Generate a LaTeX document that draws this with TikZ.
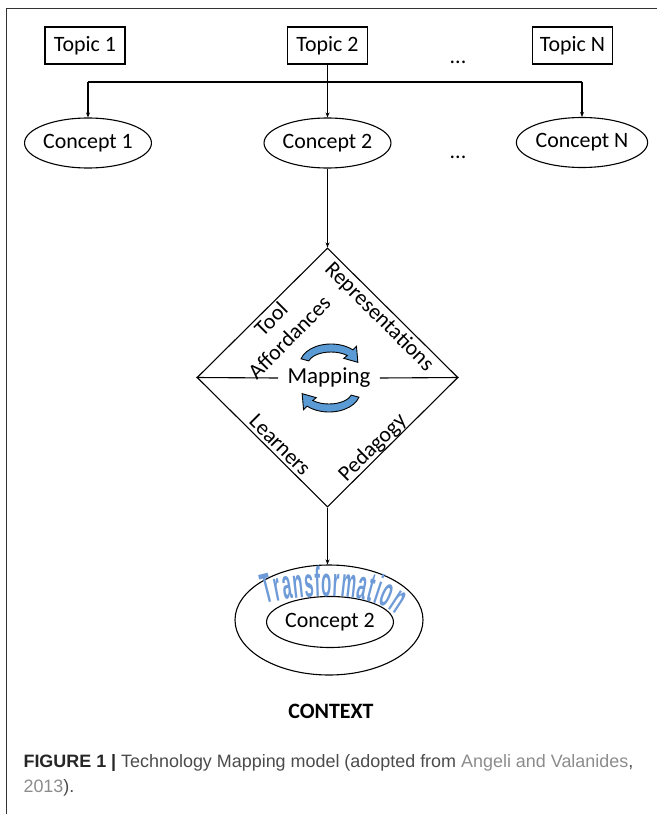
\documentclass[tikz,border=0pt]{standalone}
\usepackage{fontspec}
\setmainfont{Carlito}
\newfontfamily\capfont{Liberation Sans}
\newfontfamily\wordfont[FakeStretch=0.4]{Liberation Sans}
\usetikzlibrary{shapes.geometric,arrows.meta,decorations.text}

\definecolor{wordblue}{RGB}{110,155,215}
\definecolor{iconblue}{RGB}{91,155,213}
\definecolor{capgray}{RGB}{75,75,75}
\definecolor{linkgray}{RGB}{140,140,140}

\tikzset{
  pics/cycarrow/.style={code={
    \filldraw[cyc] (195:31 and 20) arc[start angle=195, end angle=315, x radius=31, y radius=20]
      -- (315:36 and 25) -- (354:27 and 16) -- (315:18 and 8)
      -- (315:23 and 12) arc[start angle=315, end angle=195, x radius=23, y radius=12] -- cycle;
  }}
}

\begin{document}
\begin{tikzpicture}[x=1bp, y=-1bp, line width=1.1bp, >={Stealth[length=5bp,width=4bp]},
    every node/.style={font=\fontsize{22}{26}\selectfont},
    topic/.style={draw, rectangle, minimum width=80bp, minimum height=37bp, inner sep=0pt},
    concept/.style={draw, ellipse, minimum width=111bp, minimum height=50bp, inner sep=0pt},
    side/.style={align=center, inner sep=0pt},
    cyc/.style={fill=iconblue, draw=black, line width=0.9bp}]
  \useasboundingbox (0,0) rectangle (657,814);
  % рамка
  \draw[line width=1.2bp, black!80] (6.5,814) -- (6.5,8.5) -- (657,8.5);
  % темы
  \node[topic] (t1) at (85,45.5) {Topic 1};
  \node[topic] (t2) at (327.5,45.5) {Topic 2};
  \node[topic] (tn) at (572.5,45.5) {Topic N};
  \node (tdots) at (458,62) {...};
  % понятия
  \node[concept] (c1) at (88,143) {Concept 1};
  \node[concept] (c2) at (327.5,143) {Concept 2};
  \node[concept] (cn) at (582,142.5) {Concept N};
  \node (cdots) at (458,157) {...};
  % связи
  \coordinate (fork) at (327.5,82);
  \draw (fork -| c1) -- (fork -| cn);
  \draw[->] (t2) -- (c2);
  \draw[->] (fork -| c1) -- (c1);
  \draw[->] (fork -| cn) -- (cn);
  % ромб
  \node[draw, diamond, minimum width=261bp, minimum height=259bp, inner sep=0pt] (dia) at (327.5,377.5) {};
  \draw[->] (c2) -- (dia.north);
  \node[inner xsep=9bp, font=\fontsize{23}{27}\selectfont] (map) at (329,378) {Mapping};
  \draw (dia.west) -- (map.west);
  \draw (map.east) -- (dia.east);
  \node[side, rotate=45] (tool) at (280,328) {Tool\\Affordances};
  \node[side, rotate=-45] (repr) at (379,317) {Representations};
  \node[side, rotate=-45] (learn) at (280,445) {Learners};
  \node[side, rotate=45] (ped) at (373,448) {Pedagogy};
  \pic at (331,364) {cycarrow};
  \pic[rotate=180] at (329,392) {cycarrow};
  % контекст
  \node[draw, ellipse, minimum width=188bp, minimum height=110bp] (ctx) at (329,620) {};
  \node[concept, minimum width=105bp, minimum height=51bp] (c2b) at (330,622) {Concept 2};
  \draw[->] (dia.south) -- (dia.south |- ctx.north);
  \path[decorate, decoration={text along path, text align={fit to path},
      text={|\wordfont\bfseries\fontsize{42}{42}\selectfont\color{wordblue}|Transformation}}]
    (266,604) .. controls (300,594) and (366,590) .. (396,614);
  \node[font=\fontsize{22}{26}\selectfont\bfseries] (ctxlabel) at (331,711) {CONTEXT};
  % подпись
  \node[anchor=base west, inner sep=0pt, font=\capfont\fontsize{18}{24}\selectfont, text=capgray] (cap1) at (23,767)
    {\textcolor{black!85}{\bfseries FIGURE 1 |} Technology Mapping model (adopted from \textcolor{linkgray}{Angeli and Valanides},};
  \node[anchor=base west, inner sep=0pt, font=\capfont\fontsize{18}{24}\selectfont, text=capgray] (cap2) at (23,792)
    {\textcolor{linkgray}{2013}).};
\end{tikzpicture}
\end{document}
